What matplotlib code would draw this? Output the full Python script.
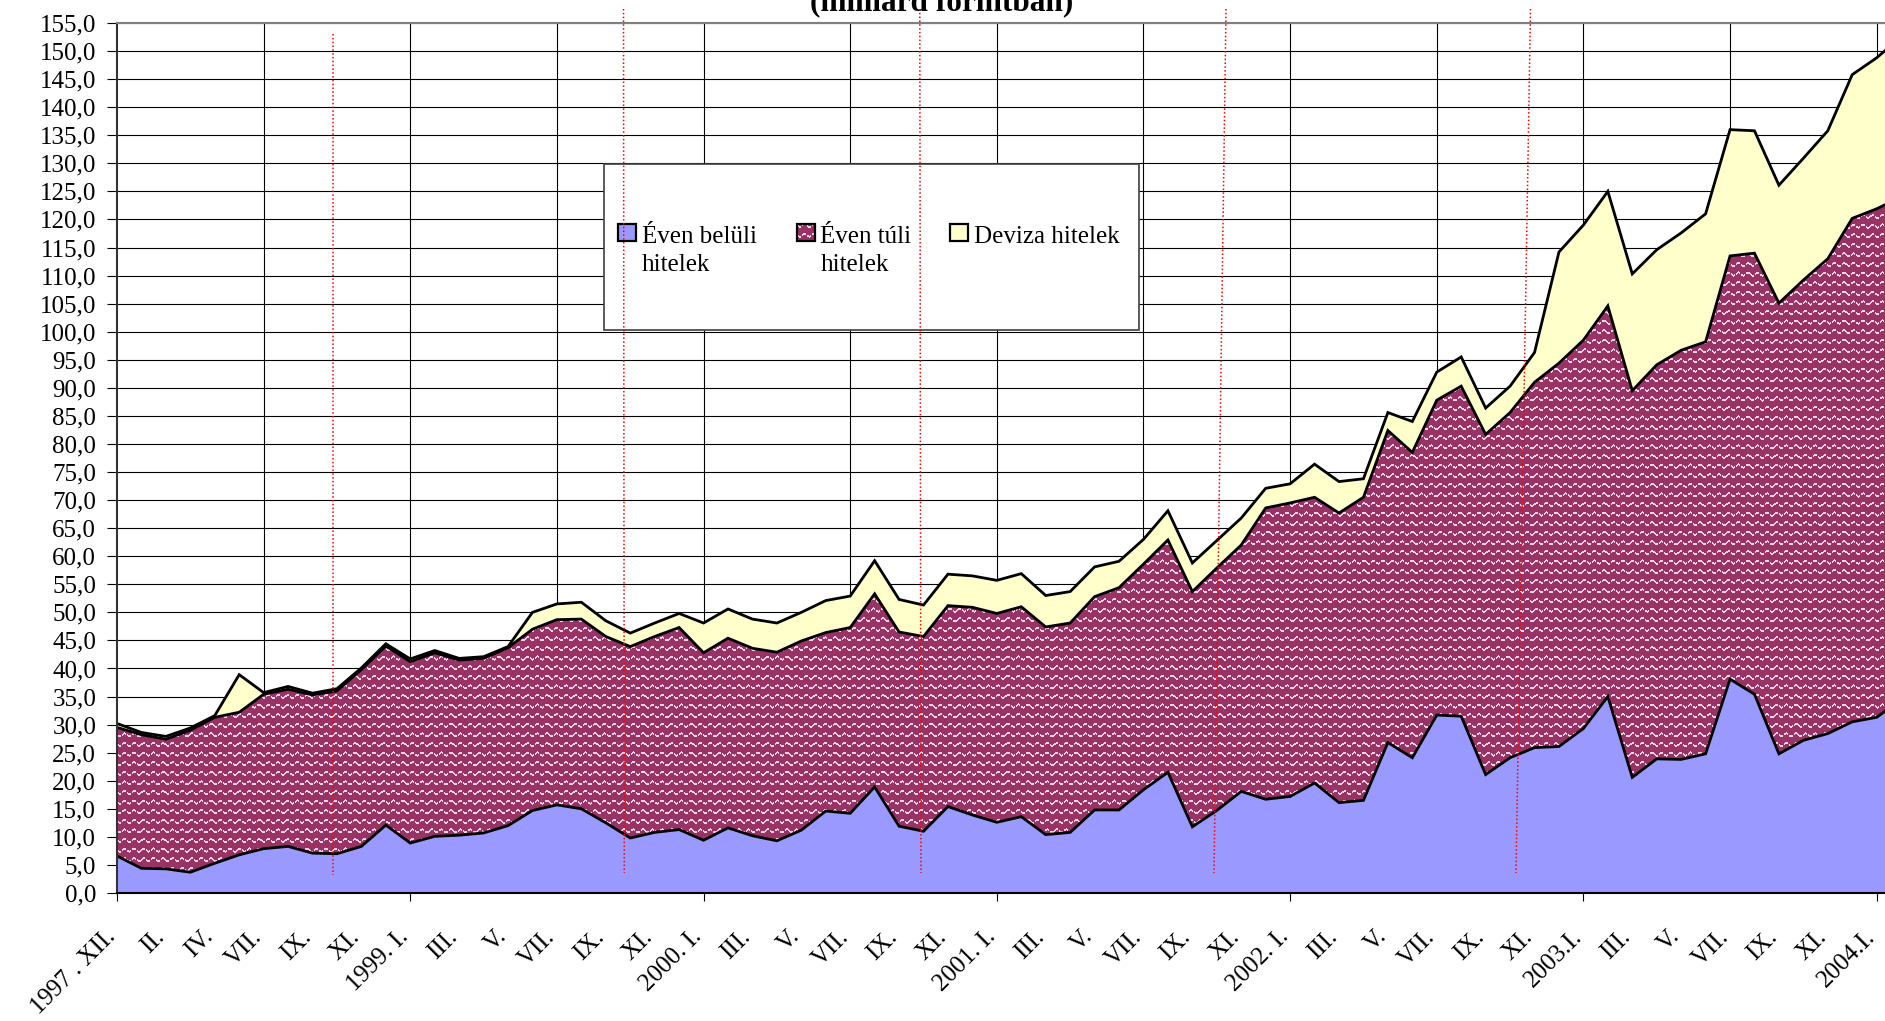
import numpy as np
import matplotlib
matplotlib.use('Agg')
import matplotlib.pyplot as plt
import matplotlib.transforms as mtransforms
from matplotlib.patches import Rectangle
from matplotlib.ticker import FuncFormatter

plt.rcParams['font.family'] = ['Liberation Serif', 'DejaVu Serif']

# --- adatok (milliárd forint) -------------------------------------------
honapok = ['I', 'II', 'III', 'IV', 'V', 'VI', 'VII', 'VIII', 'IX', 'X', 'XI', 'XII']
kategoriak = (['1997.XII'] + ['1998.' + m for m in honapok if m != 'VI']
              + [f'{ev}.{m}' for ev in range(1999, 2004) for m in honapok]
              + ['2004.I', '2004.II'])

even_beluli = [6.6, 4.4, 4.3, 3.7, 5.3, 6.8, 7.9, 8.3, 7.1, 7.0, 8.3, 12.1,
               8.9, 10.1, 10.3, 10.7, 12.0, 14.7, 15.7, 15.0, 12.5, 9.8, 10.8, 11.3,
               9.4, 11.6, 10.2, 9.3, 11.2, 14.6, 14.2, 18.9, 11.9, 11.0, 15.4, 13.9,
               12.6, 13.6, 10.4, 10.8, 14.8, 14.8, 18.4, 21.5, 11.8, 14.7, 18.1, 16.7,
               17.2, 19.6, 16.1, 16.5, 26.8, 24.1, 31.7, 31.5, 21.1, 24.1, 25.9, 26.1,
               29.3, 35.0, 20.6, 23.9, 23.8, 24.8, 38.1, 35.4, 24.8, 27.2, 28.4, 30.5,
               31.3, 34.5]

even_tuli = [22.9, 23.8, 23.1, 25.3, 26.0, 25.4, 27.5, 28.0, 28.2, 29.0, 31.5, 31.9,
             32.3, 32.7, 31.2, 31.1, 31.7, 32.3, 33.0, 33.8, 33.2, 34.1, 34.9, 36.0,
             33.4, 33.8, 33.4, 33.6, 33.7, 31.8, 33.1, 34.4, 34.6, 34.7, 35.8, 37.0,
             37.2, 37.4, 37.0, 37.3, 38.0, 39.6, 40.2, 41.4, 41.9, 43.2, 43.9, 51.9,
             52.3, 50.9, 51.6, 54.0, 55.6, 54.4, 56.1, 58.8, 60.6, 61.5, 65.1, 68.3,
             69.2, 69.6, 68.9, 70.2, 72.9, 73.4, 75.4, 78.6, 80.3, 82.0, 84.6, 89.7,
             90.6, 89.5]

deviza = [0.7, 0.4, 0.5, 0.4, 0.3, 6.7, 0.3, 0.5, 0.3, 0.4, 0.3, 0.4,
          0.5, 0.4, 0.3, 0.3, 0.2, 3.0, 2.8, 3.0, 2.8, 2.4, 2.4, 2.5,
          5.3, 5.2, 5.2, 5.2, 5.1, 5.7, 5.6, 5.9, 5.8, 5.6, 5.6, 5.6,
          5.9, 5.9, 5.6, 5.6, 5.3, 4.7, 4.4, 5.2, 5.1, 4.9, 4.8, 3.5,
          3.4, 5.9, 5.6, 3.3, 3.2, 5.5, 5.0, 5.2, 4.7, 4.7, 5.3, 19.8,
          20.5, 20.4, 20.8, 20.5, 20.9, 22.8, 22.5, 21.8, 21.0, 21.7, 22.8, 25.6,
          26.9, 28.5]

tengely_feliratok = ['1997 . XII.', 'II.', 'IV.', 'VII.', 'IX.', 'XI.',
                     '1999. I.', 'III.', 'V.', 'VII.', 'IX.', 'XI.',
                     '2000. I.', 'III.', 'V.', 'VII.', 'IX.', 'XI.',
                     '2001. I.', 'III.', 'V.', 'VII.', 'IX.', 'XI.',
                     '2002. I.', 'III.', 'V.', 'VII.', 'IX.', 'XI.',
                     '2003.I.', 'III.', 'V.', 'VII.', 'IX.', 'XI.',
                     '2004.I.']

sorozat_nevek = ['Éven belüli\nhitelek', 'Éven túli\nhitelek', 'Deviza hitelek']

# Színek
KEK = '#9999FF'
BORDO = '#993366'
SARGA = '#FFFFCC'


def hullam_minta(h, w):
    # Excel-szerű "hullám" mintázat (bordó alapon világos hullámok)
    rr, cc = np.mgrid[0:h, 0:w]
    yc = 1.6 * np.sin(2 * np.pi * cc / 9.6)
    d = np.mod(rr - yc, 9.6)
    m = (d < 2.0) & (np.mod(cc, 4.8) < 4.0)
    alap = np.array([153, 51, 102]) / 255.0
    vilagos = np.array([240, 214, 228]) / 255.0
    img = np.empty((h, w, 3))
    img[:] = alap
    img[m] = vilagos
    return img


# --- ábra -----------------------------------------------------------------
W, H = 1885, 1021
fig = plt.figure(figsize=(W / 100, H / 100), dpi=100, facecolor='white')

ax_l, ax_t, ax_b = 117, 23, 893          # pixel: bal, felső (155), alsó (0)
ax_w = W - ax_l
ax_h = ax_b - ax_t
px_per_ho = 24.44
ax = fig.add_axes([ax_l / W, (H - ax_b) / H, ax_w / W, ax_h / H])
ax.set_facecolor('white')

x = np.arange(len(kategoriak))
b = np.array(even_beluli)
bt = b + np.array(even_tuli)
ossz = bt + np.array(deviza)

ax.fill_between(x, 0, b, facecolor=KEK, lw=0, zorder=1)
poly = ax.fill_between(x, b, bt, facecolor=BORDO, lw=0, zorder=1)
ax.fill_between(x, bt, ossz, facecolor=SARGA, lw=0, zorder=1)

xmax = ax_w / px_per_ho

tex = hullam_minta(ax_h, ax_w)
im = ax.imshow(tex, extent=(0, xmax, 0, 155), aspect='auto',
               interpolation='nearest', zorder=1.2)
im.set_clip_path(poly.get_paths()[0], transform=ax.transData)
ax.set_xlim(0, xmax)
ax.set_ylim(0, 155)

for y in (b, bt, ossz):
    ax.plot(x, y, color='black', lw=2.0, zorder=2, solid_joinstyle='miter')

# rácsvonalak
ax.set_axisbelow(True)
ax.set_yticks(np.arange(0, 156, 5))
ax.yaxis.grid(True, color='black', lw=0.8)
ax.vlines(np.arange(6, 73, 6), 0, 155, color='black', lw=0.8, zorder=0.5)

ax.yaxis.set_major_formatter(FuncFormatter(lambda v, p: f'{v:.1f}'.replace('.', ',')))
ax.tick_params(axis='y', direction='out', length=7, width=0.8, labelsize=18, pad=8)

# x tengely: feliratok minden második hónapnál, osztásjel évente
ax.xaxis.remove_overlapping_locs = False
ax.set_xticks(np.arange(0, 73, 2))
ax.set_xticklabels(tengely_feliratok)
ax.tick_params(axis='x', which='major', length=0, labelsize=18, pad=29)
ax.set_xticks(np.arange(0, 73, 12), minor=True)
ax.tick_params(axis='x', which='minor', direction='out', length=6, width=0.8)
eltolas = mtransforms.ScaledTranslation(-0.05, 0, fig.dpi_scale_trans)
for lab in ax.get_xticklabels():
    lab.set_rotation(45)
    lab.set_ha('right')
    lab.set_va('center')
    lab.set_rotation_mode('anchor')
    lab.set_transform(lab.get_transform() + eltolas)

ax.spines['right'].set_visible(False)
ax.spines['left'].set_color('#333333')
ax.spines['left'].set_linewidth(1.5)
ax.spines['bottom'].set_color('black')
ax.spines['bottom'].set_linewidth(1.5)
ax.spines['top'].set_color('#808080')
ax.spines['top'].set_linewidth(1.5)

# --- átfedő réteg pixel-koordinátákban (jelmagyarázat, cím, piros vonalak) ---
ov = fig.add_axes([0, 0, 1, 1], facecolor='none')

ov.text(942, 10, '(milliárd forintban)', ha='center', va='baseline',
        fontsize=22.5, fontweight='bold')

ov.add_patch(Rectangle((603.5, 164), 535, 166, facecolor='white',
                       edgecolor='#404040', lw=1.2, zorder=2))
jel_x = [618, 797, 950]
szoveg_x = [642, 820.5, 974]
szinek = [KEK, BORDO, SARGA]
for jx, sx, nev, sz in zip(jel_x, szoveg_x, sorozat_nevek, szinek):
    if sz == BORDO:
        kis = hullam_minta(17, 18)
        ov.imshow(kis, extent=(jx, jx + 18, 241, 224), aspect='auto',
                  interpolation='nearest', zorder=3)
        ov.add_patch(Rectangle((jx, 224), 18, 17, facecolor='none',
                               edgecolor='black', lw=1.6, zorder=4))
    else:
        ov.add_patch(Rectangle((jx, 224), 18, 17, facecolor=sz,
                               edgecolor='black', lw=1.6, zorder=4))
    for k, sor in enumerate(nev.split('\n')):
        ov.text(sx, 242.5 + k * 28.5, sor, ha='left', va='baseline',
                fontsize=18, zorder=4)

# piros pontozott vonalak
piros = [((333.3, 34), (333.3, 875)),
         ((623.5, 9), (624.3, 873)),
         ((919.8, 9), (921, 873)),
         ((1226, 9), (1214, 873)),
         ((1530.5, 9), (1516, 873))]
for (x0, y0), (x1, y1) in piros:
    ov.plot([x0, x1], [y0, y1], color='red', lw=1.1,
            linestyle=(0, (1, 1.5)), zorder=5)

ov.set_xlim(0, W)
ov.set_ylim(H, 0)
ov.axis('off')

fig.savefig('out.png', dpi=100, facecolor='white')
